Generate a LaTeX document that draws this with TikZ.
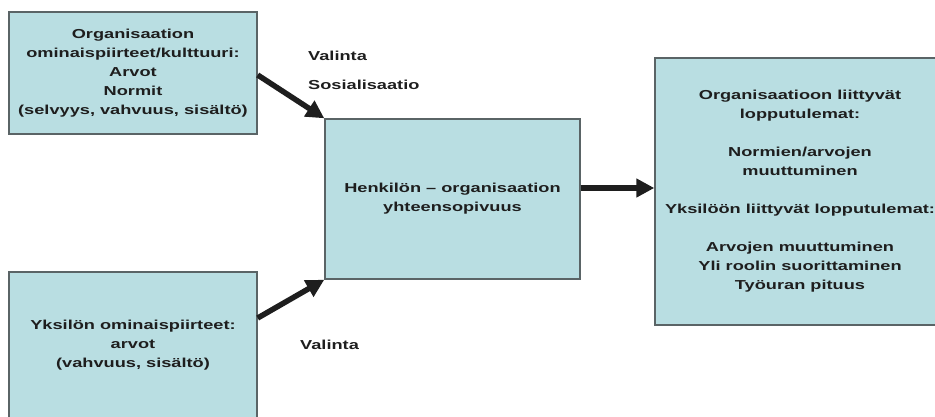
\documentclass[tikz,border=0pt]{standalone}
\usepackage{fontspec}
\setmainfont{Liberation Sans}[FakeStretch=1.4]
\usetikzlibrary{arrows.meta,positioning}
\definecolor{boxfill}{RGB}{185,222,226}
\definecolor{boxline}{RGB}{90,100,102}
\definecolor{txt}{RGB}{30,30,30}
\tikzset{
	box/.style={draw=boxline,line width=1.4pt,fill=boxfill,align=center,inner sep=0pt,
		font=\bfseries\fontsize{13}{19}\selectfont,text=txt},
	arr/.style={line width=5.5pt,draw=txt,-{Triangle[length=18pt,width=18pt]}},
	lbl/.style={anchor=west,inner sep=0pt,font=\bfseries\fontsize{13}{19}\selectfont,text=txt}
}

\begin{document}
\begin{tikzpicture}[x=1pt,y=-1pt]
	\useasboundingbox (0,0) rectangle (935,416);
	\clip (0,0) rectangle (935,416);

	\node[box,minimum width=248pt,minimum height=122pt] (org) at (133,73)
		{Organisaation\\ ominaispiirteet/kulttuuri:\\ Arvot\\ Normit\\ (selvyys, vahvuus, sisältö)};
	\node[box,minimum width=248pt,minimum height=146pt] (yks) at (133,345)
		{Yksilön ominaispiirteet:\\ arvot\\ (vahvuus, sisältö)};
	\node[box,minimum width=255pt,minimum height=160pt] (pof) at (452.5,199)
		{Henkilön – organisaation\\ yhteensopivuus};
	\node[box,minimum width=290pt,minimum height=267pt] (out) at (800,191.5)
		{Organisaatioon liittyvät\\ lopputulemat:\\[19pt]
		 Normien/arvojen\\ muuttuminen\\[19pt]
		 Yksilöön liittyvät lopputulemat:\\[19pt]
		 Arvojen muuttuminen\\ Yli roolin suorittaminen\\ Työuran pituus};

	\node[lbl] (val1) at (308,56) {Valinta};
	\node[lbl] (sos) at (308,85) {Sosialisaatio};
	\node[lbl] (val2) at (300,345) {Valinta};

	\draw[arr] ([yshift=-2pt]org.east) -- (pof.north west);
	\draw[arr] ([yshift=27pt]yks.east) -- (pof.south west);
	\draw[arr] ([yshift=11pt]pof.east) -- ([yshift=11pt]pof.east -| out.west);
\end{tikzpicture}
\end{document}
